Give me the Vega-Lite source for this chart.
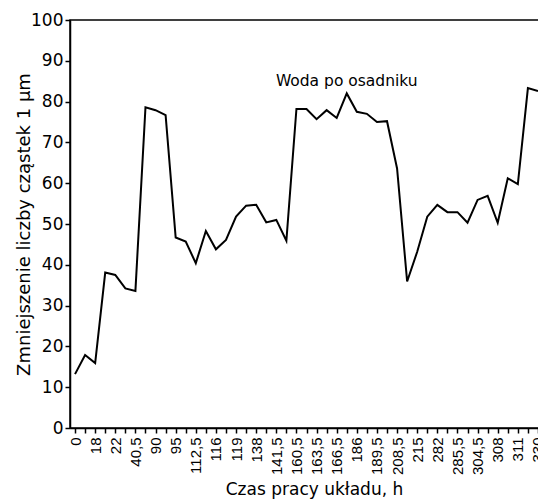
{
  "$schema": "https://vega.github.io/schema/vega-lite/v6.json",
  "autosize": {"type": "none"},
  "padding": {"left": 70, "top": 20, "right": 0, "bottom": 74},
  "width": 473,
  "height": 408,
  "background": "white",
  "config": {
    "font": "DejaVu Sans",
    "view": {"stroke": "black", "strokeWidth": 1.5},
    "axis": {"grid": false, "domainColor": "black", "tickColor": "black", "labelColor": "black", "titleColor": "black", "titleFontWeight": "normal", "domainWidth": 1.5, "tickWidth": 1.5}
  },
  "data": {"values": [
    {"t": "0", "v": 13.2}, {"t": "0+", "v": 17.9}, {"t": "18", "v": 15.9}, {"t": "18+", "v": 38.1},
    {"t": "22", "v": 37.5}, {"t": "22+", "v": 34.2}, {"t": "40,5", "v": 33.6}, {"t": "40,5+", "v": 78.6},
    {"t": "90", "v": 77.9}, {"t": "90+", "v": 76.7}, {"t": "95", "v": 46.7}, {"t": "95+", "v": 45.7},
    {"t": "112,5", "v": 40.4}, {"t": "112,5+", "v": 48.3}, {"t": "116", "v": 43.8}, {"t": "116+", "v": 46.1},
    {"t": "119", "v": 51.8}, {"t": "119+", "v": 54.5}, {"t": "138", "v": 54.7}, {"t": "138+", "v": 50.4},
    {"t": "141,5", "v": 51.0}, {"t": "141,5+", "v": 45.9}, {"t": "160,5", "v": 78.2}, {"t": "160,5+", "v": 78.2},
    {"t": "163,5", "v": 75.7}, {"t": "163,5+", "v": 77.9}, {"t": "166,5", "v": 76.0}, {"t": "166,5+", "v": 82.0},
    {"t": "186", "v": 77.5}, {"t": "186+", "v": 77.0}, {"t": "189,5", "v": 75.0}, {"t": "189,5+", "v": 75.2},
    {"t": "208,5", "v": 63.6}, {"t": "208,5+", "v": 35.9}, {"t": "215", "v": 43.2}, {"t": "215+", "v": 51.8},
    {"t": "282", "v": 54.7}, {"t": "282+", "v": 52.9}, {"t": "285,5", "v": 52.9}, {"t": "285,5+", "v": 50.3},
    {"t": "304,5", "v": 55.9}, {"t": "304,5+", "v": 56.9}, {"t": "308", "v": 50.3}, {"t": "308+", "v": 61.2},
    {"t": "311", "v": 59.8}, {"t": "311+", "v": 83.3}, {"t": "330", "v": 82.6}
  ]},
  "layer": [
    {
      "mark": {"type": "line", "color": "black", "strokeWidth": 2},
      "encoding": {
        "x": {"field": "t", "type": "ordinal", "sort": null,
          "scale": {"type": "point", "padding": 0.5},
          "axis": {"title": "Czas pracy układu, h", "titleFontSize": 17, "titlePadding": 7, "titleX": 244,
            "labelAngle": -90, "labelFontSize": 15, "labelFont": "Liberation Sans", "labelPadding": 4, "tickSize": 5,
            "labelExpr": "indexof(datum.label, '+') >= 0 ? '' : datum.label"}},
        "y": {"field": "v", "type": "quantitative",
          "scale": {"domain": [0, 100], "nice": false},
          "axis": {"title": "Zmniejszenie liczby cząstek 1 µm", "titleFontSize": 18, "titlePadding": -3,
            "values": [0, 10, 20, 30, 40, 50, 60, 70, 80, 90, 100], "labelFontSize": 17, "tickSize": 5, "labelPadding": 2}}
      }
    },
    {
      "mark": {"type": "text", "fontSize": 15.5, "color": "black", "align": "center", "baseline": "middle"},
      "data": {"values": [{"t": "166,5+", "v": 85, "label": "Woda po osadniku"}]},
      "encoding": {
        "x": {"field": "t", "type": "ordinal", "sort": null},
        "y": {"field": "v", "type": "quantitative"},
        "text": {"field": "label"}
      }
    }
  ]
}
